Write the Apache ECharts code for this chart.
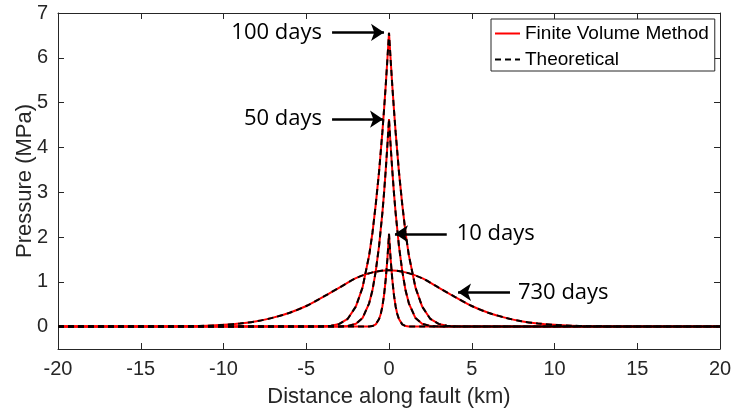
<!DOCTYPE html>
<html>
<head>
<meta charset="utf-8">
<script src="https://cdn.jsdelivr.net/npm/echarts@6/dist/echarts.min.js"></script>
<style>html,body{margin:0;padding:0;background:#fff}#c{width:737px;height:416px}</style>
</head>
<body>
<div id="c"></div>
<script>
// ---- data ----
const legendNames = ['Finite Volume Method', 'Theoretical'];
const xTicks = [-20, -15, -10, -5, 0, 5, 10, 15, 20];
const yTicks = [0, 1, 2, 3, 4, 5, 6, 7];

// 10 days
const x10 = [-20, -2, -1.6, -1.2, -1, -0.8, -0.6, -0.5, -0.4, -0.3, -0.2, -0.1, -0.05, 0, 0.05, 0.1, 0.2, 0.3, 0.4, 0.5, 0.6, 0.8, 1, 1.2, 1.6, 2, 20];
const p10 = [0, 0, 0, 0.003, 0.012, 0.05, 0.17, 0.28, 0.45, 0.70, 1.05, 1.50, 1.77, 2.07, 1.77, 1.50, 1.05, 0.70, 0.45, 0.28, 0.17, 0.05, 0.012, 0.003, 0, 0, 0];
// 50 and 100 days
const xMid = [-20, -6, -5, -4, -3.5, -3, -2.5, -2, -1.6, -1.2, -1, -0.8, -0.6, -0.4, -0.3, -0.2, -0.1, 0, 0.1, 0.2, 0.3, 0.4, 0.6, 0.8, 1, 1.2, 1.6, 2, 2.5, 3, 3.5, 4, 5, 6, 20];
const p50 = [0, 0, 0, 0, 0, 0.002, 0.012, 0.062, 0.19, 0.52, 0.81, 1.24, 1.80, 2.54, 2.98, 3.48, 4.03, 4.63, 4.03, 3.48, 2.98, 2.54, 1.80, 1.24, 0.81, 0.52, 0.19, 0.062, 0.012, 0.002, 0, 0, 0, 0, 0];
const p100 = [0, 0, 0.001, 0.006, 0.018, 0.061, 0.17, 0.45, 0.87, 1.59, 2.09, 2.73, 3.46, 4.34, 4.84, 5.37, 5.95, 6.56, 5.95, 5.37, 4.84, 4.34, 3.46, 2.73, 2.09, 1.59, 0.87, 0.45, 0.17, 0.061, 0.018, 0.006, 0.001, 0, 0];
// 730 days
const x730 = [-20, -19, -18, -17, -16, -15, -14, -13, -12, -11, -10, -9, -8, -7, -6, -5, -4, -3, -2, -1, 0, 1, 2, 3, 4, 5, 6, 7, 8, 9, 10, 11, 12, 13, 14, 15, 16, 17, 18, 19, 20];
const p730 = [0, 0, 0, 0, 0.001, 0.002, 0.003, 0.005, 0.01, 0.02, 0.04, 0.07, 0.12, 0.20, 0.31, 0.46, 0.66, 0.87, 1.08, 1.21, 1.26, 1.21, 1.08, 0.87, 0.66, 0.46, 0.31, 0.20, 0.12, 0.07, 0.04, 0.02, 0.01, 0.005, 0.003, 0.002, 0.001, 0, 0, 0, 0];

// annotations (text + arrow, in data units)
const annText = ['100 days', '50 days', '10 days', '730 days'];
const annTextX = [-4.05, -4.05, 4.09, 7.79];
const annY = [6.566, 4.63, 2.07, 0.767];
const annAlign = ['right', 'right', 'left', 'left'];
const arrowFromX = [-3.44, -3.44, 3.49, 7.31];
const arrowToX = [-0.30, -0.36, 0.36, 4.17];

// ---- chart ----
const AX = '#262626';
const FONT = '"Liberation Sans", Arial, Helvetica, sans-serif';
const curves = [[x10, p10], [xMid, p50], [xMid, p100], [x730, p730]];
const pairs = (xs, ys) => xs.map((x, i) => [x, ys[i]]);

const series = [];
curves.forEach((c, i) => {
  series.push({
    name: legendNames[0], type: 'line', data: pairs(c[0], c[1]),
    showSymbol: false, symbol: 'none', smooth: i === 3 ? 0.3 : false,
    lineStyle: { color: '#ff0000', width: 2 }, itemStyle: { color: '#ff0000' },
    z: 2, animation: false, silent: true
  });
});
curves.forEach((c, i) => {
  series.push({
    name: legendNames[1], type: 'line', data: pairs(c[0], c[1]),
    showSymbol: false, symbol: 'none', smooth: i === 3 ? 0.3 : false,
    lineStyle: { color: '#000000', width: 2, type: [6, 4] }, itemStyle: { color: '#000000' },
    z: 3, animation: false, silent: true
  });
});
// arrows
series.push({
  type: 'line', data: [], silent: true, animation: false,
  markLine: {
    silent: true, animation: false, symbol: ['none', 'arrow'], symbolSize: 13,
    label: { show: false },
    lineStyle: { color: '#000', width: 2.5, type: 'solid' },
    itemStyle: { color: '#000' },
    data: annY.map((y, i) => [{ coord: [arrowFromX[i], y] }, { coord: [arrowToX[i], y] }])
  }
});

const axisCommon = {
  type: 'value', min: -20, max: 20, interval: 5,
  axisLine: { show: true, onZero: false, lineStyle: { color: AX, width: 1 } },
  axisTick: { show: true, inside: true, length: 6, lineStyle: { color: AX } },
  splitLine: { show: false }
};
const yCommon = {
  type: 'value', min: -0.5, max: 7,
  axisLine: { show: true, onZero: false, lineStyle: { color: AX, width: 1 } },
  axisTick: { show: true, inside: true, length: 6, customValues: yTicks, lineStyle: { color: AX } },
  splitLine: { show: false }
};

const chart = echarts.init(document.getElementById('c'), null, { renderer: 'canvas' });
chart.setOption({
  backgroundColor: '#fff',
  animation: false,
  grid: { left: 58, right: 17, top: 13, bottom: 67, containLabel: false },
  legend: {
    data: legendNames, orient: 'vertical', left: 491, top: 19,
    itemWidth: 25, itemHeight: 14, itemGap: 7,
    padding: [5, 6, 2, 3], borderColor: AX, borderWidth: 1, backgroundColor: '#fff',
    itemStyle: { opacity: 0 },
    lineStyle: {},
    textStyle: { fontFamily: FONT, fontSize: 19, color: '#000', lineHeight: 18 },
    selectedMode: false
  },
  xAxis: [
    Object.assign({}, axisCommon, {
      position: 'bottom',
      axisLabel: { show: true, margin: 10, fontFamily: FONT, fontSize: 20, color: AX },
      name: 'Distance along fault (km)', nameLocation: 'middle', nameGap: 37,
      nameTextStyle: { fontFamily: FONT, fontSize: 22, color: AX }
    }),
    Object.assign({}, axisCommon, { position: 'top', axisLabel: { show: false } })
  ],
  yAxis: [
    Object.assign({}, yCommon, {
      position: 'left',
      axisLabel: { show: true, customValues: yTicks, margin: 10, fontFamily: FONT, fontSize: 20, color: AX },
      name: 'Pressure (MPa)', nameLocation: 'middle', nameGap: 22, nameMoveOverlap: false,
      nameTextStyle: { fontFamily: FONT, fontSize: 22, color: AX }
    }),
    Object.assign({}, yCommon, { position: 'right', axisLabel: { show: false } })
  ],
  series: series
});

// annotation texts placed through the chart's own scales
const graphics = annText.map((t, i) => {
  const p = chart.convertToPixel({ xAxisIndex: 0, yAxisIndex: 0 }, [annTextX[i], annY[i]]);
  return {
    type: 'text', x: p[0], y: p[1], silent: true, z: 10,
    style: { text: t, fill: '#000', font: '22px "Open Sans", sans-serif', align: annAlign[i], verticalAlign: 'middle' }
  };
});
chart.setOption({ graphic: graphics });
</script>
</body>
</html>
